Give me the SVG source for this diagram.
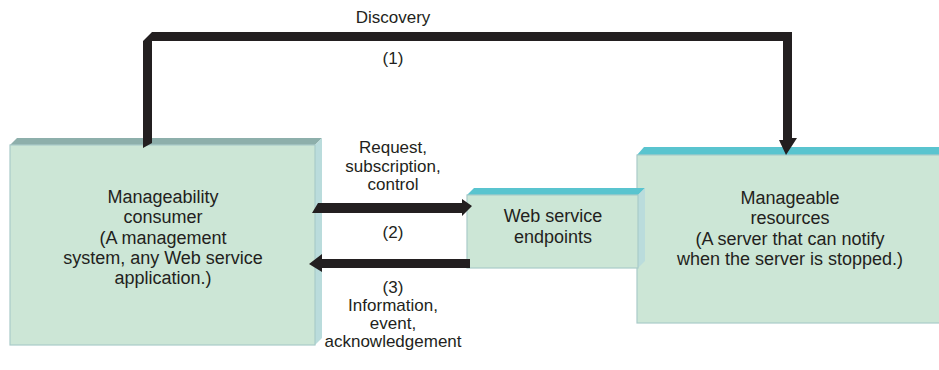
<svg xmlns="http://www.w3.org/2000/svg" width="939" height="370" viewBox="0 0 939 370">
<style>
.front{fill:#cce6d6;stroke:#a9cbc9;stroke-width:1.2}
.topg{fill:#8dafab}
.topc{fill:#59c4cf}
.side{fill:#badcdc}
.arrow{fill:#231f20}
text{font-family:"Liberation Sans",Arial,sans-serif;font-size:18px;fill:#231f20;text-anchor:middle}
.lbl{font-size:17px}
</style>
<rect width="939" height="370" fill="#ffffff"/>
<g id="consumer">
<polygon class="topg" points="10,145 17,138 322,138 315,145"/>
<polygon class="side" points="315,145 322,138 322,338 315,345"/>
<rect class="front" x="10" y="145" width="305" height="200"/>
<text x="163" y="203">Manageability</text>
<text x="163" y="223">consumer</text>
<text x="163" y="244">(A management</text>
<text x="163" y="264">system, any Web service</text>
<text x="163" y="284">application.)</text>
</g>
<g id="resources">
<polygon class="topc" points="637,155 644,147 939,147 939,155"/>
<rect class="front" x="637" y="155" width="305" height="168"/>
<text x="790" y="204">Manageable</text>
<text x="790" y="224">resources</text>
<text x="790" y="245">(A server that can notify</text>
<text x="790" y="265">when the server is stopped.)</text>
</g>
<g id="endpoints">
<polygon class="topc" points="467,195 474,188 645,188 638,195"/>
<polygon class="side" points="638,195 645,188 645,261 638,268"/>
<rect class="front" x="467" y="195" width="171" height="73"/>
<text x="553" y="222">Web service</text>
<text x="553" y="243">endpoints</text>
</g>
<g id="connectors">
<polygon class="arrow" points="143,148 143,41 152,32 792,32 792,138 797,138 786,155 779,140 783,140 783,41 152,41 152,143"/>
<polygon class="arrow" points="312,213 318,203 462,203 462,199 472,206 462,216 462,213"/>
<polygon class="arrow" points="470,259 470,268 322,268 322,272 309,264 322,254 322,259"/>
<text class="lbl" x="393" y="23">Discovery</text>
<text class="lbl" x="393" y="64">(1)</text>
<text class="lbl" x="393" y="153">Request,</text>
<text class="lbl" x="393" y="171.5">subscription,</text>
<text class="lbl" x="393" y="190">control</text>
<text class="lbl" x="393" y="238">(2)</text>
<text class="lbl" x="393" y="293">(3)</text>
<text class="lbl" x="393" y="311">Information,</text>
<text class="lbl" x="393" y="329">event,</text>
<text class="lbl" x="393" y="347">acknowledgement</text>
</g>
</svg>
